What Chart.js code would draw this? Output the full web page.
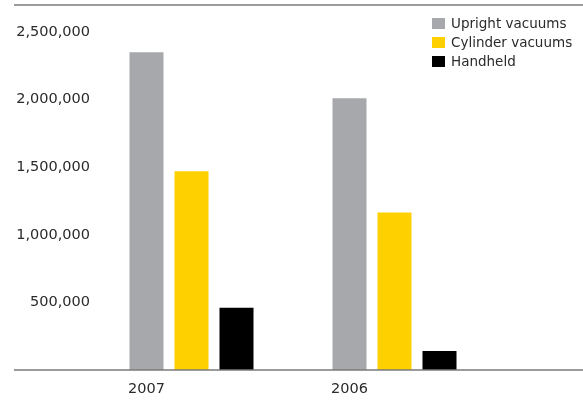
<!DOCTYPE html>
<html>
<head>
<meta charset="utf-8">
<script src="https://cdn.jsdelivr.net/npm/chart.js@4"></script>
<style>
  body { margin: 0; background: #fff; }
  #wrap { position: relative; width: 583px; height: 404px; }
  #legend { position: absolute; left: 432px; top: 14px; font: 13.5px "DejaVu Sans", sans-serif; color: #2b2b2b; }
  #legend div { height: 19px; line-height: 19px; white-space: nowrap; }
  #legend span { display: inline-block; width: 13px; height: 11px; margin-right: 6px; vertical-align: -1px; }
</style>
</head>
<body>
<div id="wrap">
  <canvas id="vacChart"></canvas>
  <div id="legend"></div>
</div>
<script>
const years = ['2007', '2006'];
const upright = [2350000, 2010000];
const cylinder = [1470000, 1165000];
const handheld = [460000, 140000];
const yTicks = [500000, 1000000, 1500000, 2000000, 2500000];

const ctx = document.getElementById('vacChart');

// top + bottom rules run across the whole width
const rules = {
  id: 'rules',
  afterDatasetsDraw(chart) {
    const { ctx, chartArea: { top, bottom } } = chart;
    ctx.save();
    ctx.strokeStyle = '#7a7a7a';
    ctx.lineWidth = 1.5;
    [top, bottom].forEach(y => {
      ctx.beginPath();
      ctx.moveTo(14, y);
      ctx.lineTo(583, y);
      ctx.stroke();
    });
    ctx.restore();
  }
};

const chart = new Chart(ctx, {
  type: 'bar',
  data: {
    labels: years,
    datasets: [
      { label: 'Upright vacuums', data: upright, backgroundColor: '#a7a8ab' },
      { label: 'Cylinder vacuums', data: cylinder, backgroundColor: '#ffd000' },
      { label: 'Handheld', data: handheld, backgroundColor: '#000000' }
    ]
  },
  options: {
    responsive: true,
    maintainAspectRatio: false,
    animation: false,
    datasets: {
      bar: { barPercentage: 0.756, categoryPercentage: 0.665 }
    },
    layout: { padding: { left: 14, right: 87, top: 5, bottom: 0 } },
    plugins: {
      legend: { display: false },
      tooltip: { enabled: false }
    },
    scales: {
      x: {
        grid: { display: false, drawTicks: false },
        border: { display: false },
        ticks: {
          labelOffset: -45,
          padding: 11,
          color: '#2b2b2b',
          font: { family: 'DejaVu Sans', size: 14.5 }
        },
        afterFit: (scale) => { scale.height = 34; }
      },
      y: {
        min: 0,
        max: 2700000,
        grid: { display: false, drawTicks: false },
        border: { display: false },
        afterBuildTicks: (scale) => { scale.ticks = yTicks.map(v => ({ value: v })); },
        afterFit: (scale) => {
          scale.width = 76;
          scale.paddingTop = 0;
          scale.paddingBottom = 0;
        },
        ticks: {
          padding: 0,
          color: '#2b2b2b',
          font: { family: 'DejaVu Sans', size: 14.5 },
          callback: (v) => v.toLocaleString('en-US')
        }
      }
    }
  },
  plugins: [rules]
});

document.getElementById('legend').innerHTML = chart.data.datasets
  .map(d => '<div><span style="background:' + d.backgroundColor + '"></span>' + d.label + '</div>')
  .join('');
</script>
</body>
</html>
